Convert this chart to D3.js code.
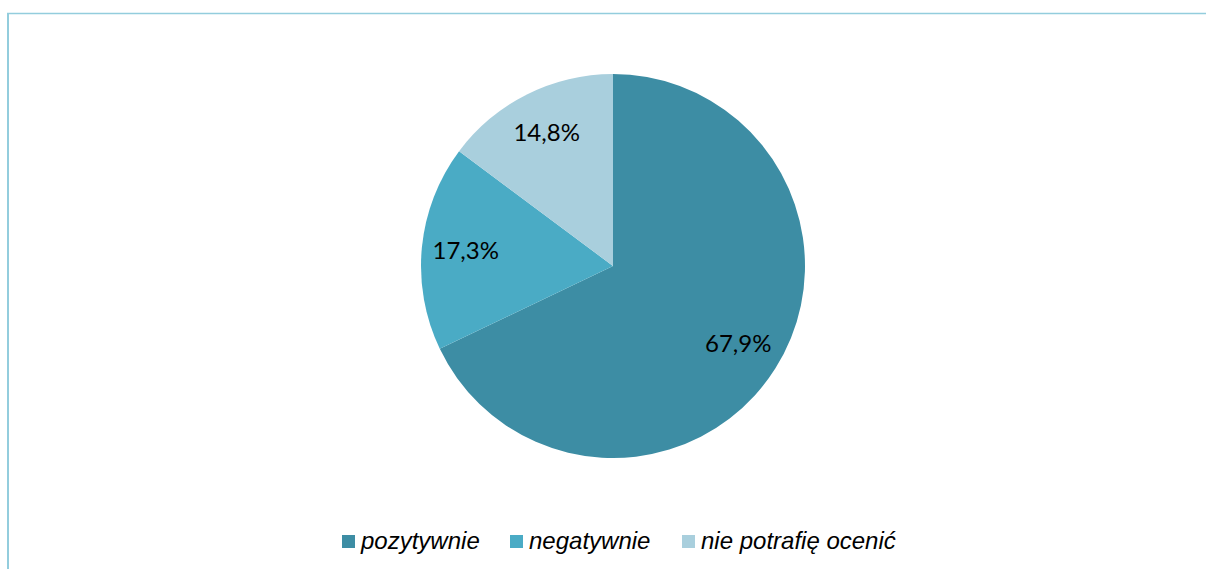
<!DOCTYPE html>
<html>
<head>
<meta charset="utf-8">
<script src="https://cdn.jsdelivr.net/npm/d3@7/dist/d3.min.js"></script>
<style>
  body { margin: 0; background: #fff; }
  svg { display: block; }
</style>
</head>
<body>
<svg width="1206" height="569"></svg>
<script>
// data
var categories = ["pozytywnie", "negatywnie", "nie potrafię ocenić"];
var values = [67.9, 17.3, 14.8];
var colors = ["#3d8da4", "#4aabc5", "#a9cfdd"];

var svg = d3.select("svg"),
    width = +svg.attr("width"),
    height = +svg.attr("height"),
    cx = 613, cy = 266,
    radius = 192;

// frame lines (top and left)
svg.append("line")
    .attr("x1", 7).attr("x2", width).attr("y1", 13.5).attr("y2", 13.5)
    .attr("stroke", "#93cddd").attr("stroke-width", 1.5);
svg.append("line")
    .attr("x1", 8).attr("x2", 8).attr("y1", 13).attr("y2", height)
    .attr("stroke", "#93cddd").attr("stroke-width", 2);

var color = d3.scaleOrdinal().domain(categories).range(colors);

var pie = d3.pie().sort(null).value(function(d, i) { return values[i]; });
var arcs = pie(categories);

var arc = d3.arc().innerRadius(0).outerRadius(radius);
var labelArc = d3.arc().innerRadius(148).outerRadius(148);

var g = svg.append("g").attr("transform", "translate(" + cx + "," + cy + ")");

g.selectAll("path")
  .data(arcs)
  .enter().append("path")
    .attr("d", arc)
    .attr("fill", function(d) { return color(d.data); });

g.selectAll("text")
  .data(arcs)
  .enter().append("text")
    .attr("transform", function(d) { return "translate(" + labelArc.centroid(d) + ")"; })
    .attr("text-anchor", "middle")
    .attr("dy", "0.3em")
    .style("font-family", "Lato, 'Open Sans', sans-serif")
    .style("font-size", "24px")
    .style("fill", "#000")
    .text(function(d, i) { return values[i].toFixed(1).replace(".", ",") + "%"; });

// legend
var legendX = [342, 510, 682];
var legend = svg.selectAll(".legend")
  .data(categories)
  .enter().append("g")
    .attr("class", "legend")
    .attr("transform", function(d, i) { return "translate(" + legendX[i] + ",535)"; });

legend.append("rect")
    .attr("width", 13).attr("height", 13)
    .attr("fill", function(d) { return color(d); });

legend.append("text")
    .attr("x", 19).attr("y", 14)
    .style("font-family", "'Liberation Sans', Arial, sans-serif")
    .style("font-style", "italic")
    .style("font-size", "24px")
    .style("fill", "#000")
    .text(function(d) { return d; });
</script>
</body>
</html>
